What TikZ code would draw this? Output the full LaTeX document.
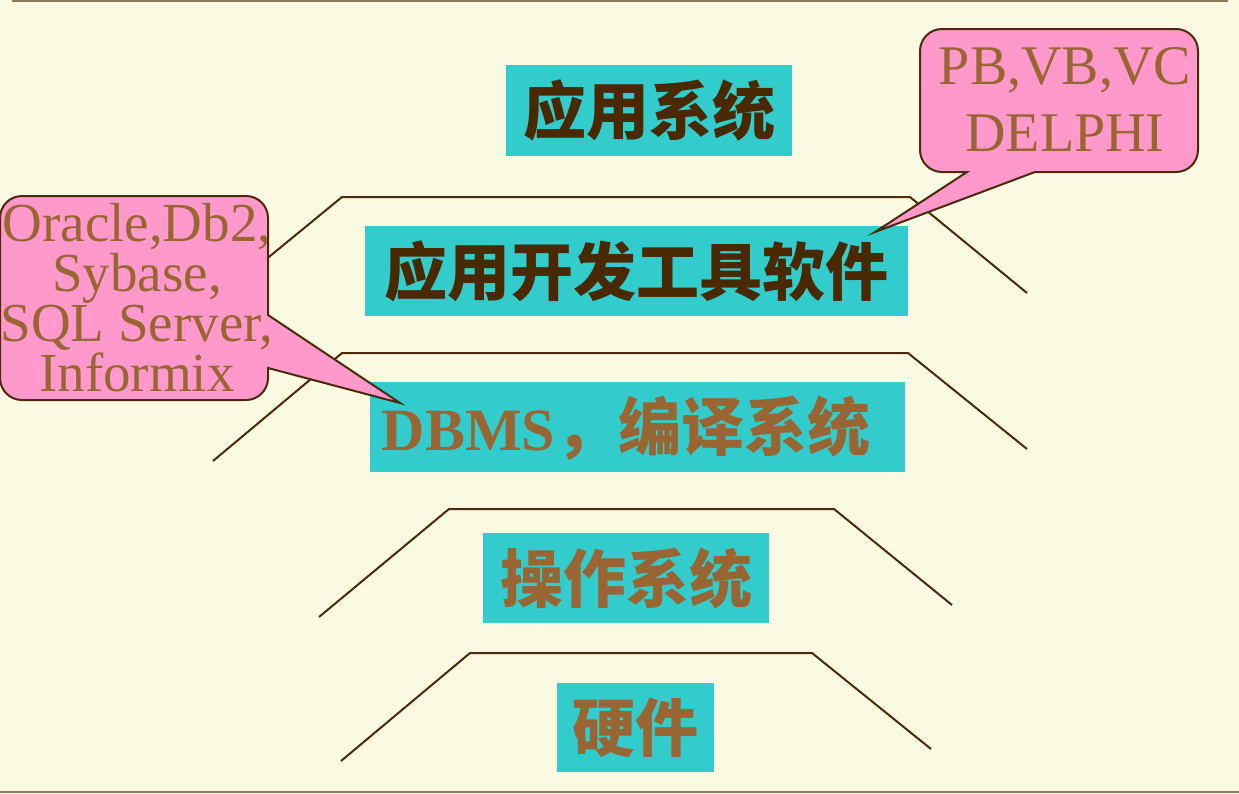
\documentclass[tikz,border=0pt]{standalone}
\usepackage{fontspec}
\setmainfont{Liberation Serif}
\newfontfamily\cjkfont{Noto Sans CJK SC}
\definecolor{paper}{HTML}{FAFAE3}
\definecolor{tealbox}{HTML}{33CCCC}
\definecolor{darkink}{HTML}{4A2800}
\definecolor{brownink}{HTML}{996633}
\definecolor{pinkfill}{HTML}{FF99CC}
\definecolor{edgeline}{HTML}{4A2A0A}
\definecolor{ruleline}{HTML}{8C7A5A}
\tikzset{
  layerbox/.style={fill=tealbox, inner sep=0pt},
  cjktext/.style={font={\cjkfont\bfseries\fontsize{63}{70}\selectfont}},
  shelf/.style={draw=edgeline, line width=2pt},
  callout/.style={draw=edgeline, fill=pinkfill, line width=2pt, line join=miter},
  callouttext/.style={inner sep=0pt, align=center, text=brownink}
}
\begin{document}
\begin{tikzpicture}[x=1pt, y=1pt]
  % page and rules
  \fill[paper] (0,0) rectangle (1239,-793);
  \useasboundingbox (0,0) rectangle (1239,-793);
  \draw[ruleline, line width=2pt] (12,-1) -- (1228,-1);
  \draw[ruleline, line width=2pt] (0,-792) -- (1239,-792);

  % layer boxes
  \node[layerbox, cjktext, text=darkink, minimum width=286pt, minimum height=91pt] (app) at (649,-110.5) {应用系统};
  \node[layerbox, cjktext, text=darkink, minimum width=543pt, minimum height=90pt] (tools) at (636.5,-271) {应用开发工具软件};
  \node[layerbox, minimum width=535pt, minimum height=90pt] (dbms) at (637.5,-427) {};
  \node[inner sep=0pt, text=brownink] (dbmstext) at (626,-428)
    {\fontsize{60}{70}\selectfont\bfseries DBMS{\cjkfont\fontsize{63}{70}\selectfont ，编译系统}};
  \node[layerbox, cjktext, text=brownink, minimum width=286pt, minimum height=90pt] (os) at (626,-578) {操作系统};
  \node[layerbox, cjktext, text=brownink, minimum width=157pt, minimum height=89pt] (hw) at (635.5,-727.5) {硬件};

  % shelves between the layers
  \coordinate (s1a) at (225,-293);  \coordinate (s1b) at (342,-197);
  \coordinate (s1c) at (910,-197);  \coordinate (s1d) at (1027,-293);
  \coordinate (s2a) at (213,-461);  \coordinate (s2b) at (342,-353);
  \coordinate (s2c) at (908,-353);  \coordinate (s2d) at (1027,-449);
  \coordinate (s3a) at (319,-617);  \coordinate (s3b) at (449,-509);
  \coordinate (s3c) at (834,-509);  \coordinate (s3d) at (952,-605);
  \coordinate (s4a) at (341,-761);  \coordinate (s4b) at (470,-653);
  \coordinate (s4c) at (812,-653);  \coordinate (s4d) at (931,-749);
  \draw[shelf] (s1a) -- (s1b) -- (s1c) -- (s1d);
  \draw[shelf] (s2a) -- (s2b) -- (s2c) -- (s2d);
  \draw[shelf] (s3a) -- (s3b) -- (s3c) -- (s3d);
  \draw[shelf] (s4a) -- (s4b) -- (s4c) -- (s4d);

  % callout for development tools
  \coordinate (tooltip) at (875,-232);
  \draw[callout] (942,-29) -- (1176,-29) arc[start angle=90, end angle=0, radius=22]
    -- (1198,-150) arc[start angle=0, end angle=-90, radius=22]
    -- (1035,-172) -- (tooltip) -- (967,-172)
    -- (942,-172) arc[start angle=270, end angle=180, radius=22]
    -- (920,-51) arc[start angle=180, end angle=90, radius=22] -- cycle;
  \node[callouttext, font={\fontsize{56}{67}\selectfont}] (toolnames) at (1065,-100)
    {PB,VB,VC\\DELPHI};

  % callout for database products
  \coordinate (dbtip) at (400,-403);
  \draw[callout] (22,-196) -- (246,-196) arc[start angle=90, end angle=0, radius=22]
    -- (268,-315) -- (dbtip) -- (268,-368)
    -- (268,-378) arc[start angle=0, end angle=-90, radius=22]
    -- (22,-400) arc[start angle=270, end angle=180, radius=22]
    -- (0,-218) arc[start angle=180, end angle=90, radius=22] -- cycle;
  \node[callouttext, font={\fontsize{55}{50}\selectfont}] (dbnames) at (137,-298)
    {Oracle,Db2,\\Sybase,\\SQL Server,\\Informix};
\end{tikzpicture}
\end{document}
